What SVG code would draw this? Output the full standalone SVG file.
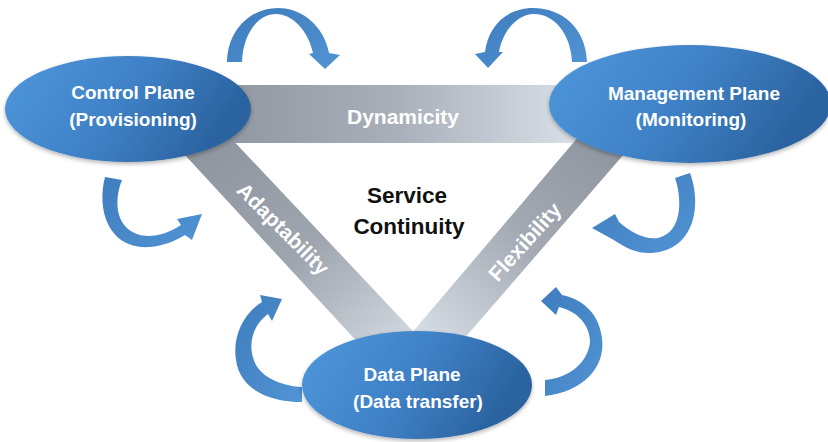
<svg xmlns="http://www.w3.org/2000/svg" width="828" height="442" viewBox="0 0 828 442">
<defs>
<linearGradient id="gEll" x1="0" y1="0" x2="1" y2="0.3">
<stop offset="0" stop-color="#4f97dc"/>
<stop offset="0.55" stop-color="#3f81c6"/>
<stop offset="1" stop-color="#2a639f"/>
</linearGradient>
<linearGradient id="gArr" x1="0" y1="0" x2="1" y2="1">
<stop offset="0" stop-color="#3f7dbd"/>
<stop offset="1" stop-color="#5193d4"/>
</linearGradient>
<linearGradient id="gDyn" x1="0" y1="0" x2="1" y2="0">
<stop offset="0" stop-color="#8d949e"/>
<stop offset="0.5" stop-color="#a9b0b9"/>
<stop offset="1" stop-color="#dfe6ee"/>
</linearGradient>
<linearGradient id="gAda2" x1="0" y1="0" x2="1" y2="1">
<stop offset="0" stop-color="#8a919b"/>
<stop offset="0.55" stop-color="#9ea5ae"/>
<stop offset="1" stop-color="#d7dee6"/>
</linearGradient>
<linearGradient id="gFlx" x1="1" y1="0" x2="0" y2="1">
<stop offset="0" stop-color="#8a919b"/>
<stop offset="0.5" stop-color="#a2a9b2"/>
<stop offset="1" stop-color="#dbe2ea"/>
</linearGradient>
<filter id="sh" x="-10%" y="-10%" width="120%" height="130%">
<feGaussianBlur in="SourceAlpha" stdDeviation="2"/>
<feOffset dx="0" dy="2" result="b"/>
<feComponentTransfer><feFuncA type="linear" slope="0.3"/></feComponentTransfer>
<feMerge><feMergeNode/><feMergeNode in="SourceGraphic"/></feMerge>
</filter>
</defs>
<style>
.node text{font-family:"Liberation Sans",Arial,sans-serif;font-weight:bold;font-size:19px;fill:#ffffff;text-anchor:middle}
.bar text{font-family:"Liberation Sans",Arial,sans-serif;font-weight:bold;font-size:21px;fill:#ffffff;text-anchor:middle}
.center text{font-family:"Liberation Sans",Arial,sans-serif;font-weight:bold;font-size:22.5px;fill:#111111;text-anchor:middle}
.arrow{fill:url(#gArr)}
</style>
<rect width="828" height="442" fill="#ffffff"/>

<g id="connectors">
<g class="bar" id="dynamicity">
<rect x="200" y="85" width="400" height="58" fill="url(#gDyn)"/>
<text x="403" y="124" font-size="21.5">Dynamicity</text>
</g>
<g class="bar" id="adaptability">
<polygon points="212,118 425,344 362,347 172,141" fill="url(#gAda2)"/>
<text x="0" y="0" transform="translate(283,229) rotate(45) translate(0,7)">Adaptability</text>
</g>
<g class="bar" id="flexibility">
<polygon points="590,123 638,138 462,341 405,341" fill="url(#gFlx)"/>
<text x="0" y="0" transform="translate(525,242) rotate(-48) translate(0,7)">Flexibility</text>
</g>
</g>

<g id="arrows">
<path class="arrow" d="M227,62 C228,28 252,8 278,8 C302,8 324,26 329,53 L340,55 L325,69 L309,54 L313,53 C308,30 292,14 276,14 C257,14 243,35 242,62 Z"/>
<path class="arrow" d="M587,62 C586,28 562,8 533,8 C507,8 488,26 485,52 L475,54 L488,68 L503,52 L499,52 C503,30 518,14 534,14 C555,14 571,35 572,62 Z"/>
<path class="arrow" d="M105,177 C96,212 110,250 150,247 C163,246 175,241 185,235 L192,240 L202,214 L177,219 L181,225 C168,234 150,239 137,234 C115,226 114,200 122,180 Z"/>
<path class="arrow" d="M690,173 C702,205 695,250 652,253 C638,254 626,248 617,242 L612,239 L592,228 L615,214 L619,222 C630,232 645,240 658,238 C683,232 682,198 675,178 Z"/>
<path class="arrow" d="M302,402 C270,402 240,390 236,360 C232,335 245,312 262,302 L260,295 L282,299 L272,321 L268,314 C253,325 246,345 256,365 C265,380 285,386 302,387 Z"/>
<path class="arrow" d="M545,396 C582,392 606,368 602,338 C599,315 585,300 562,295 L556,287 L541,301 L556,315 L559,307 C579,312 590,326 590,342 C588,362 570,378 545,380 Z"/>
</g>

<g class="node" id="control-plane">
<ellipse cx="128" cy="109" rx="123" ry="53" fill="url(#gEll)" filter="url(#sh)"/>
<text x="133" y="99">Control Plane</text>
<text x="133" y="126">(Provisioning)</text>
</g>
<g class="node" id="management-plane">
<ellipse cx="690" cy="104" rx="141" ry="59" fill="url(#gEll)" filter="url(#sh)"/>
<text x="694" y="100">Management Plane</text>
<text x="691" y="126">(Monitoring)</text>
</g>
<g class="node" id="data-plane">
<ellipse cx="417" cy="385" rx="115" ry="54" fill="url(#gEll)" filter="url(#sh)"/>
<text x="412" y="381">Data Plane</text>
<text x="418" y="408">(Data transfer)</text>
</g>

<g class="center" id="service-continuity">
<text x="407" y="203">Service</text>
<text x="409" y="234">Continuity</text>
</g>
</svg>
